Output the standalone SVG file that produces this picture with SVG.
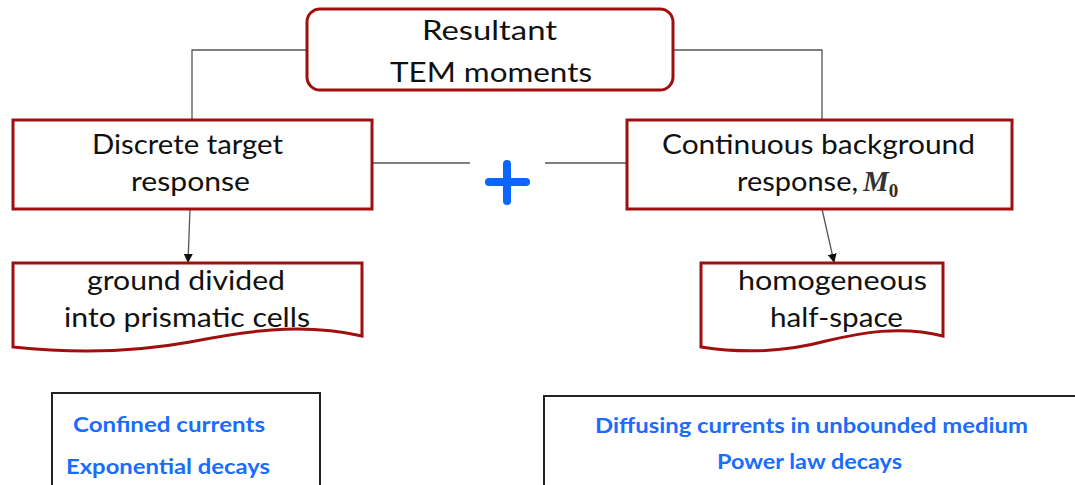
<svg xmlns="http://www.w3.org/2000/svg" width="1075" height="485" viewBox="0 0 1075 485">
<style>
.node{fill:#fff;stroke:#a00f0f;stroke-width:3}
.box{fill:#fff;stroke:#222;stroke-width:2}
.t{font-family:Lato,"Liberation Sans",sans-serif;font-size:27px;fill:#111;text-anchor:middle}
.b{font-family:Lato,"Liberation Sans",sans-serif;font-size:21px;font-weight:bold;fill:#1a6cff;text-anchor:middle}
.c{fill:none;stroke:#555;stroke-width:1.3}
</style>
<defs>
<marker id="arr" viewBox="0 0 10 10" refX="9" refY="5" markerWidth="9" markerHeight="9" markerUnits="userSpaceOnUse" orient="auto">
<path d="M0,0 L10,5 L0,10 Z" fill="#111"/>
</marker>
</defs>
<rect width="1075" height="485" fill="#fff"/>
<g id="connectors">
<path class="c" d="M307,50 H192 V120"/>
<path class="c" d="M673,50 H822 V120"/>
<path class="c" d="M372,163 H470"/>
<path class="c" d="M545,163 H627"/>
<path class="c" d="M190,209 L188,262" marker-end="url(#arr)"/>
<path class="c" d="M822,209 L834,262" marker-end="url(#arr)"/>
</g>
<g id="top">
<rect class="node" x="307" y="9" width="366" height="81" rx="13"/>
<text class="t" x="489.5" y="40" textLength="135" lengthAdjust="spacingAndGlyphs">Resultant</text>
<text class="t" x="491" y="82" textLength="202" lengthAdjust="spacingAndGlyphs">TEM moments</text>
</g>
<g id="discrete">
<rect class="node" x="13" y="120" width="359" height="89"/>
<text class="t" x="187.5" y="154" textLength="191" lengthAdjust="spacingAndGlyphs">Discrete target</text>
<text class="t" x="190.5" y="191" textLength="119" lengthAdjust="spacingAndGlyphs">response</text>
</g>
<g id="plus">
<path d="M489,182 H526 M507,164 V201" stroke="#0a66ff" stroke-width="8" stroke-linecap="round" fill="none"/>
</g>
<g id="continuous">
<rect class="node" x="627" y="120" width="385" height="89"/>
<text class="t" x="818.5" y="154" textLength="313" lengthAdjust="spacingAndGlyphs">Continuous background</text>
<text class="t" x="737" y="191" style="text-anchor:start" textLength="121" lengthAdjust="spacingAndGlyphs">response,</text>
<text x="863" y="191" font-family="'Liberation Serif',serif" font-weight="bold" font-style="italic" font-size="29" fill="#333">M<tspan font-style="normal" font-size="19" dy="6" fill="#3a2a10">0</tspan></text>
</g>
<g id="ground">
<path class="node" d="M13,263 H362 V336 C300,322 240,332 190,342 C130,353 70,353 13,347 Z"/>
<text class="t" x="186" y="290" textLength="198" lengthAdjust="spacingAndGlyphs">ground divided</text>
<text class="t" x="187" y="327" textLength="246" lengthAdjust="spacingAndGlyphs">into prismatic cells</text>
</g>
<g id="halfspace">
<path class="node" d="M701,263 H943 V336 C900,325 860,333 826,341 C785,352 740,353 701,347 Z"/>
<text class="t" x="832.5" y="290" textLength="189" lengthAdjust="spacingAndGlyphs">homogeneous</text>
<text class="t" x="836.5" y="327" textLength="133" lengthAdjust="spacingAndGlyphs">half-space</text>
</g>
<g id="confined">
<rect class="box" x="52" y="393" width="268" height="100"/>
<text class="b" x="169" y="432" textLength="192" lengthAdjust="spacingAndGlyphs">Confined currents</text>
<text class="b" x="168" y="474" textLength="204" lengthAdjust="spacingAndGlyphs">Exponential decays</text>
</g>
<g id="diffusing">
<rect class="box" x="544" y="396" width="540" height="100"/>
<text class="b" x="811.5" y="433" textLength="433" lengthAdjust="spacingAndGlyphs">Diffusing currents in unbounded medium</text>
<text class="b" x="809.5" y="469" textLength="185" lengthAdjust="spacingAndGlyphs">Power law decays</text>
</g>
</svg>
